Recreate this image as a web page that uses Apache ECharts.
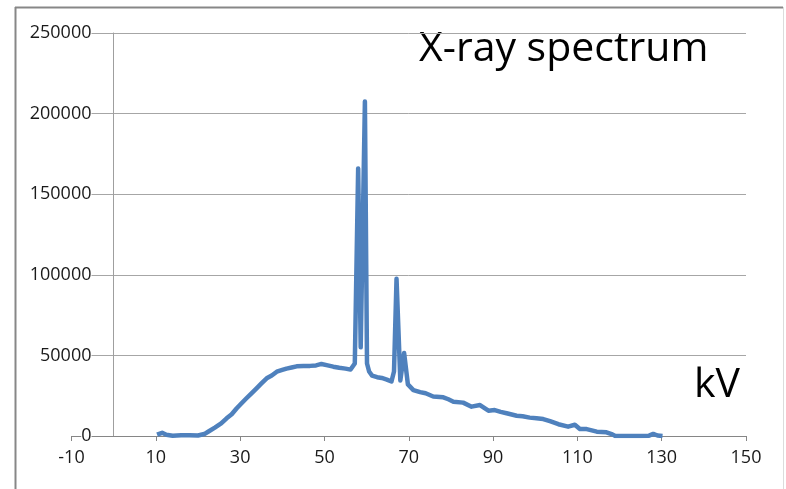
<!DOCTYPE html>
<html>
<head>
<meta charset="utf-8">
<title>X-ray spectrum</title>
<script src="https://cdn.jsdelivr.net/npm/echarts@6/dist/echarts.min.js"></script>
<style>
  html, body { margin: 0; padding: 0; background: #ffffff; }
  #chartSpectrum { width: 786px; height: 489px; }
</style>
</head>
<body>
<div id="chartSpectrum"></div>
<script>
  // energy (kV) and counts
  const kV = [
    10.3, 11.5, 12.5, 14, 16, 18, 20, 21.5, 22.5, 24, 25.5, 26.8, 28, 29.2, 30.4,
    31.5, 32.7, 33.9, 35, 36.3, 37.5, 38.7, 40, 41, 42.2, 43.4, 45, 46.6, 48, 49.3,
    50.5, 52.1, 53.5, 55, 56.2, 57.2, 58, 58.6, 59.6, 60.1, 60.6, 61.3, 62.5, 63.6,
    64.8, 65.9, 66.5, 67.1, 68, 68.9, 69.8, 71.1, 72.7, 74, 75.8, 78.2, 79.4, 80.6,
    82.9, 84.9, 86.9, 88.9, 90.4, 91.8, 93.2, 95.6, 97, 98.7, 100.3, 101.9, 103.5,
    105.5, 107.8, 109.4, 110.6, 112.2, 114.6, 116.9, 118.3, 119, 122, 125, 127, 128,
    129, 130.2
  ];
  const counts = [
    800, 2000, 800, 200, 400, 400, 300, 1200, 2800, 5200, 7800, 11000, 13500, 17200, 20500,
    23400, 26500, 29600, 32500, 35800, 37500, 39900, 41000, 41800, 42500, 43200, 43400, 43500, 43800, 44700,
    44000, 43000, 42300, 41800, 41200, 45000, 166000, 55000, 207500, 45000, 40000, 37500, 36500, 36000,
    35000, 33800, 40000, 97500, 34500, 51500, 32000, 28500, 27200, 26500, 24500, 24000, 22800, 21300,
    20700, 18200, 19200, 15700, 16100, 15000, 14100, 12600, 12200, 11400, 11000, 10500, 9200,
    7300, 5800, 7000, 4300, 4300, 2700, 2300, 1000, 0, 0, 0, 200, 1300,
    300, 0
  ];
  const xTicks = { min: -10, max: 150, interval: 20 };
  const yTicks = { min: 0, max: 250000, interval: 50000 };

  const chart = echarts.init(document.getElementById("chartSpectrum"));

  const option = {
    animation: false,
    backgroundColor: "#ffffff",
    textStyle: { fontFamily: "Open Sans" },
    grid: {
      left: 71.5,
      right: 40,
      top: 33,
      bottom: 53,
      outerBoundsMode: "none",
      containLabel: false
    },
    graphic: [
      // frame of the chart area
      { type: "line", shape: { x1: 15, y1: 7.5, x2: 783, y2: 7.5 }, style: { stroke: "#878787", lineWidth: 2 } },
      { type: "line", shape: { x1: 15.5, y1: 7, x2: 15.5, y2: 489 }, style: { stroke: "#878787", lineWidth: 2 } },
      { type: "line", shape: { x1: 783.5, y1: 7, x2: 783.5, y2: 489 }, style: { stroke: "#dcdcdc", lineWidth: 1 } },
      {
        type: "text", left: 419, top: 29,
        style: { text: "X-ray spectrum", font: "41px 'Open Sans'", fill: "#000000" }
      },
      {
        type: "text", left: 694, top: 365,
        style: { text: "kV", font: "41px 'Open Sans'", fill: "#000000" }
      }
    ],
    xAxis: {
      type: "value",
      min: xTicks.min,
      max: xTicks.max,
      interval: xTicks.interval,
      axisLine: { onZero: false, lineStyle: { color: "#868686", width: 1 } },
      axisTick: { show: true, inside: false, length: 5, lineStyle: { color: "#868686" } },
      axisLabel: { color: "#1a1a1a", fontSize: 18, margin: 13 },
      splitLine: { show: false }
    },
    yAxis: {
      type: "value",
      min: yTicks.min,
      max: yTicks.max,
      interval: yTicks.interval,
      axisLine: { show: true, onZero: true, lineStyle: { color: "#9f9f9f", width: 1 } },
      axisTick: { show: false },
      axisLabel: {
        color: "#1a1a1a",
        fontSize: 18,
        margin: -20,
        align: "right",
        backgroundColor: "#ffffff",
        formatter: (v) => String(v)
      },
      splitLine: { lineStyle: { color: "#a6a6a6", width: 1 } }
    },
    series: [
      {
        name: "X-ray spectrum",
        type: "line",
        data: kV.map((v, i) => [v, counts[i]]),
        showSymbol: false,
        smooth: false,
        lineStyle: { color: "#4f81bd", width: 4.5, join: "round" },
        itemStyle: { color: "#4f81bd" },
        z: 3
      }
    ]
  };

  chart.setOption(option);
</script>
</body>
</html>
